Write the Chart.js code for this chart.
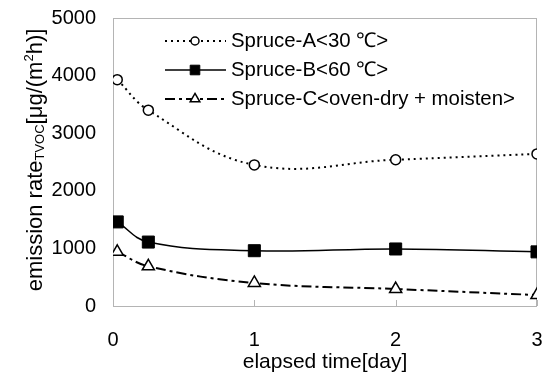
<!DOCTYPE html>
<html>
<head>
<meta charset="utf-8">
<script src="https://cdn.jsdelivr.net/npm/chart.js@4.4.1/dist/chart.umd.min.js"></script>
<style>
  html, body { margin: 0; padding: 0; background: #fff; }
  #wrap { width: 543px; height: 376px; }
</style>
</head>
<body>
<div id="wrap"><canvas id="emChart" width="543" height="376"></canvas></div>
<script>
// elapsed time [day]
const days = [0.03, 0.25, 1, 2, 3];

// emission rate TVOC [ug/(m2h)]
const spruceA = [3930, 3400, 2450, 2540, 2640];
const spruceB = [1460, 1110, 960, 990, 940];
const spruceC = [940, 690, 400, 295, 190];

const seriesNames = ['Spruce-A<30 \u2103>', 'Spruce-B<60 \u2103>', 'Spruce-C<oven-dry + moisten>'];
const xTicks = [0, 1, 2, 3];
const yTicks = [0, 1000, 2000, 3000, 4000, 5000];

const FONT = '"Liberation Sans", Arial, sans-serif';
const AXIS_GRAY = '#b4b4b4';

const toPoints = vals => vals.map((v, i) => ({ x: days[i], y: v }));

// frame, inner tick marks, legend and the y title with sub/superscripts
const decorPlugin = {
  id: 'decor',
  beforeDatasetsDraw(chart) {
    const { ctx, chartArea: a, scales } = chart;
    ctx.save();
    ctx.strokeStyle = AXIS_GRAY;
    ctx.lineWidth = 1;
    ctx.strokeRect(a.left + 0.5, a.top + 0.5, a.right - a.left - 1, a.bottom - a.top);
    ctx.beginPath();
    xTicks.forEach(t => {
      const px = Math.round(scales.x.getPixelForValue(t)) + 0.5;
      ctx.moveTo(px, a.bottom);
      ctx.lineTo(px, a.bottom - 6);
    });
    ctx.stroke();
    ctx.restore();
  },
  afterDraw(chart) {
    const { ctx } = chart;
    ctx.save();

    // legend inside the plot
    const rows = [41, 70, 99];
    chart.data.datasets.forEach((ds, i) => {
      const y = rows[i];
      ctx.save();
      ctx.strokeStyle = '#000';
      ctx.lineWidth = ds.borderWidth;
      ctx.setLineDash(ds.borderDash || []);
      ctx.beginPath();
      ctx.moveTo(165, y);
      ctx.lineTo(226, y);
      ctx.stroke();
      ctx.restore();
      ctx.save();
      ctx.fillStyle = ds.pointBackgroundColor;
      ctx.strokeStyle = '#000';
      ctx.lineWidth = ds.pointBorderWidth;
      ctx.setLineDash([]);
      Chart.helpers.drawPoint(ctx, {
        pointStyle: ds.pointStyle,
        radius: ds.pointRadius * 0.8,
        rotation: 0,
        borderWidth: ds.pointBorderWidth
      }, 195, y);
      ctx.restore();
      ctx.fillStyle = '#000';
      ctx.font = '20.4px ' + FONT;
      ctx.textBaseline = 'middle';
      ctx.textAlign = 'left';
      ctx.fillText(ds.label, 231, y);
    });

    // y axis title
    const parts = [
      { t: 'emission rate', size: 22, dy: 0 },
      { t: 'TVOC', size: 13, dy: 2 },
      { t: '[\u03bcg/(m', size: 22, dy: 0 },
      { t: '2', size: 13, dy: -9 },
      { t: 'h)]', size: 22, dy: 0 }
    ];
    let total = 0;
    parts.forEach(p => { ctx.font = p.size + 'px ' + FONT; p.w = ctx.measureText(p.t).width; total += p.w; });
    ctx.translate(42, 160);
    ctx.rotate(-Math.PI / 2);
    ctx.fillStyle = '#000';
    ctx.textBaseline = 'alphabetic';
    ctx.textAlign = 'left';
    let x = -total / 2;
    parts.forEach(p => {
      ctx.font = p.size + 'px ' + FONT;
      ctx.fillText(p.t, x, p.dy);
      x += p.w;
    });
    ctx.restore();
  }
};

const ctx = document.getElementById('emChart').getContext('2d');

new Chart(ctx, {
  type: 'line',
  data: {
    datasets: [{
      label: seriesNames[0],
      data: toPoints(spruceA),
      borderColor: '#000',
      borderWidth: 2,
      borderDash: [2, 4],
      pointStyle: 'circle',
      pointRadius: 5,
      pointBackgroundColor: '#fff',
      pointBorderColor: '#000',
      pointBorderWidth: 1.5,
      tension: 0.4
    }, {
      label: seriesNames[1],
      data: toPoints(spruceB),
      borderColor: '#000',
      borderWidth: 1.5,
      borderDash: [],
      pointStyle: 'rect',
      pointRadius: 8.5,
      pointBackgroundColor: '#000',
      pointBorderColor: '#000',
      pointBorderWidth: 1,
      tension: 0.4
    }, {
      label: seriesNames[2],
      data: toPoints(spruceC),
      borderColor: '#000',
      borderWidth: 2,
      borderDash: [10, 4, 3, 4],
      pointStyle: 'triangle',
      pointRadius: 7,
      pointBackgroundColor: '#fff',
      pointBorderColor: '#000',
      pointBorderWidth: 1.5,
      tension: 0.4
    }]
  },
  options: {
    responsive: false,
    animation: false,
    layout: { autoPadding: false, padding: { top: 18, right: 6, left: 0, bottom: 0 } },
    plugins: {
      legend: { display: false },
      tooltip: { enabled: false }
    },
    scales: {
      x: {
        type: 'linear',
        min: 0,
        max: 3,
        afterBuildTicks: axis => { axis.ticks = xTicks.map(v => ({ value: v })); },
        afterFit: axis => { axis.height = 70; axis.paddingLeft = 0; axis.paddingRight = 0; },
        grid: { display: false, drawTicks: false },
        border: { display: false },
        ticks: { color: '#000', font: { family: FONT, size: 20 }, padding: 22, maxRotation: 0 },
        title: {
          display: true,
          text: 'elapsed time[day]',
          color: '#000',
          font: { family: FONT, size: 21 },
          padding: { top: 0, bottom: 1 }
        }
      },
      y: {
        min: 0,
        max: 5000,
        afterBuildTicks: axis => { axis.ticks = yTicks.map(v => ({ value: v })); },
        afterFit: axis => { axis.width = 113; axis.paddingTop = 0; axis.paddingBottom = 0; },
        grid: { display: false, drawTicks: false },
        border: { display: false },
        ticks: {
          color: '#000',
          font: { family: FONT, size: 20 },
          padding: 17,
          callback: v => String(v)
        }
      }
    }
  },
  plugins: [decorPlugin]
});
</script>
</body>
</html>
